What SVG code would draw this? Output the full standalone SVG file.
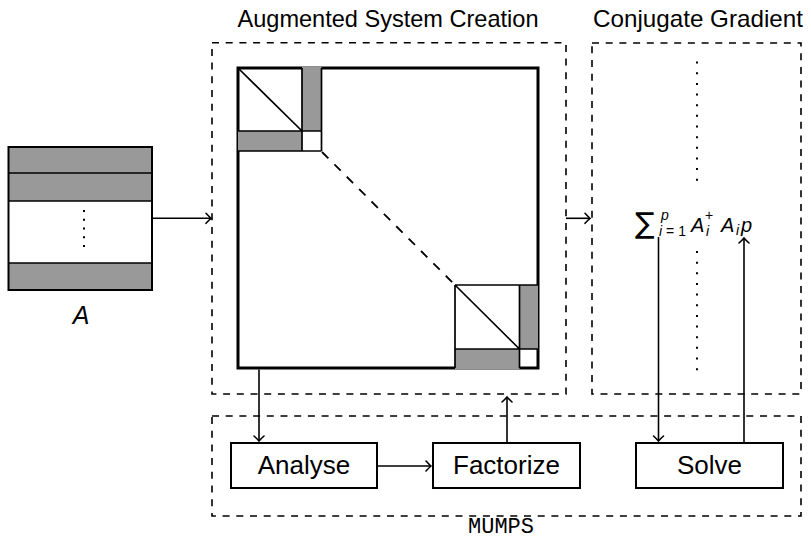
<svg xmlns="http://www.w3.org/2000/svg" width="811" height="539" viewBox="0 0 811 539">
<style>
.t{font-family:"Liberation Sans",Arial,sans-serif;fill:#000}
.m{font-family:"Liberation Sans",Arial,sans-serif;font-style:italic;fill:#000}
.dash{fill:none;stroke:#000;stroke-width:1.6;stroke-dasharray:7 6.7}
.box{fill:#fff;stroke:#000;stroke-width:2}
.ln{fill:none;stroke:#000;stroke-width:1.7}
.gray{fill:#999;stroke:none}
.conn{fill:none;stroke:#000;stroke-width:1.6;marker-end:url(#arr)}
.dots{fill:none;stroke:#000;stroke-width:2}
</style>
<defs>
<marker id="arr" viewBox="-8 -7 10 14" refX="0" refY="0" markerWidth="10" markerHeight="14" markerUnits="userSpaceOnUse" orient="auto" overflow="visible">
<path d="M-5,-5 Q-1.5,-1.2 0,0 Q-1.5,1.2 -5,5" fill="none" stroke="#000" stroke-width="1.6" stroke-linecap="round"/>
</marker>
</defs>
<rect width="811" height="539" fill="#fff"/>

<g id="matrixA">
<rect x="8.5" y="147" width="143.5" height="26" class="gray"/>
<rect x="8.5" y="173" width="143.5" height="28" class="gray"/>
<rect x="8.5" y="263" width="143.5" height="27" class="gray"/>
<line x1="8.5" y1="173" x2="152" y2="173" class="ln"/>
<line x1="8.5" y1="201" x2="152" y2="201" class="ln"/>
<line x1="8.5" y1="263" x2="152" y2="263" class="ln"/>
<rect x="8.5" y="147" width="143.5" height="143" fill="none" stroke="#000" stroke-width="2"/>
<path d="M84,210 V247" class="dots" stroke-dasharray="2 6.75"/>
<text x="81" y="324" class="m" font-size="25" text-anchor="middle">A</text>
</g>

<g id="augmented">
<text x="388" y="27" class="t" font-size="24" text-anchor="middle" textLength="301" lengthAdjust="spacingAndGlyphs">Augmented System Creation</text>
<rect x="212" y="42.7" width="354" height="351.3" class="dash"/>
</g>

<g id="bigMatrix">
<rect x="238" y="68" width="300" height="300" fill="#fff" stroke="#000" stroke-width="3"/>
<rect x="302" y="66.5" width="19.5" height="64.5" class="gray"/>
<rect x="238" y="131" width="64" height="20" class="gray"/>
<path d="M238,68 L302,131 M302,68 V151 M321.5,68 V151 M238,131 H321.5 M238,151 H321.5" class="ln"/>
<rect x="519.5" y="285" width="18.5" height="64" class="gray"/>
<rect x="455" y="349" width="64.5" height="20.5" class="gray"/>
<path d="M455,285 L519.5,349 M455,285 H538 M455,285 V368 M519.5,285 V368 M455,349 H538" class="ln"/>
<path d="M322,152 L455,285" fill="none" stroke="#000" stroke-width="1.8" stroke-dasharray="9 8.5"/>
</g>

<g id="conjugate">
<text x="698" y="27" class="t" font-size="24" text-anchor="middle" textLength="210" lengthAdjust="spacingAndGlyphs">Conjugate Gradient</text>
<rect x="592" y="43" width="209" height="351" class="dash"/>
<path d="M697,61.6 V182" class="dots" stroke-dasharray="2 8.65"/>
<path d="M697,251 V371" class="dots" stroke-dasharray="2 8.65"/>
</g>

<g id="sum">
<text x="635" y="233" font-family="DejaVu Sans,sans-serif" font-size="29">∑</text>
<text x="661" y="219.5" class="m" font-size="14">p</text>
<text x="659" y="236" class="m" font-size="14" textLength="27" lengthAdjust="spacing">i<tspan font-style="normal">=1</tspan></text>
<text x="691" y="232" class="m" font-size="20">A</text>
<text x="705" y="219.5" class="t" font-size="14">+</text>
<text x="706" y="236" class="m" font-size="14">i</text>
<text x="721" y="232" class="m" font-size="20">A</text>
<text x="736" y="235" class="m" font-size="14">i</text>
<text x="741" y="232" class="m" font-size="20">p</text>
</g>

<g id="mumps">
<rect x="212" y="416" width="589" height="100" class="dash"/>
<text x="501" y="533" font-family="Liberation Mono,Courier New,monospace" font-size="22" text-anchor="middle">MUMPS</text>
</g>

<g id="analyse">
<rect x="231" y="443" width="146" height="45" class="box"/>
<text x="304" y="474" class="t" font-size="26" text-anchor="middle">Analyse</text>
</g>
<g id="factorize">
<rect x="433" y="443" width="147" height="45" class="box"/>
<text x="506.5" y="474" class="t" font-size="26" text-anchor="middle">Factorize</text>
</g>
<g id="solve">
<rect x="636" y="443" width="147" height="45" class="box"/>
<text x="709.5" y="474" class="t" font-size="26" text-anchor="middle">Solve</text>
</g>

<g id="connectors">
<path d="M152,218.3 H211" class="conn"/>
<path d="M566,218.3 H590" class="conn"/>
<path d="M259,369.5 V441" class="conn"/>
<path d="M377,466 H431" class="conn"/>
<path d="M507,443 V397" class="conn"/>
<path d="M658.5,237 V441" class="conn"/>
<path d="M744,443 V238" class="conn"/>
</g>
</svg>
